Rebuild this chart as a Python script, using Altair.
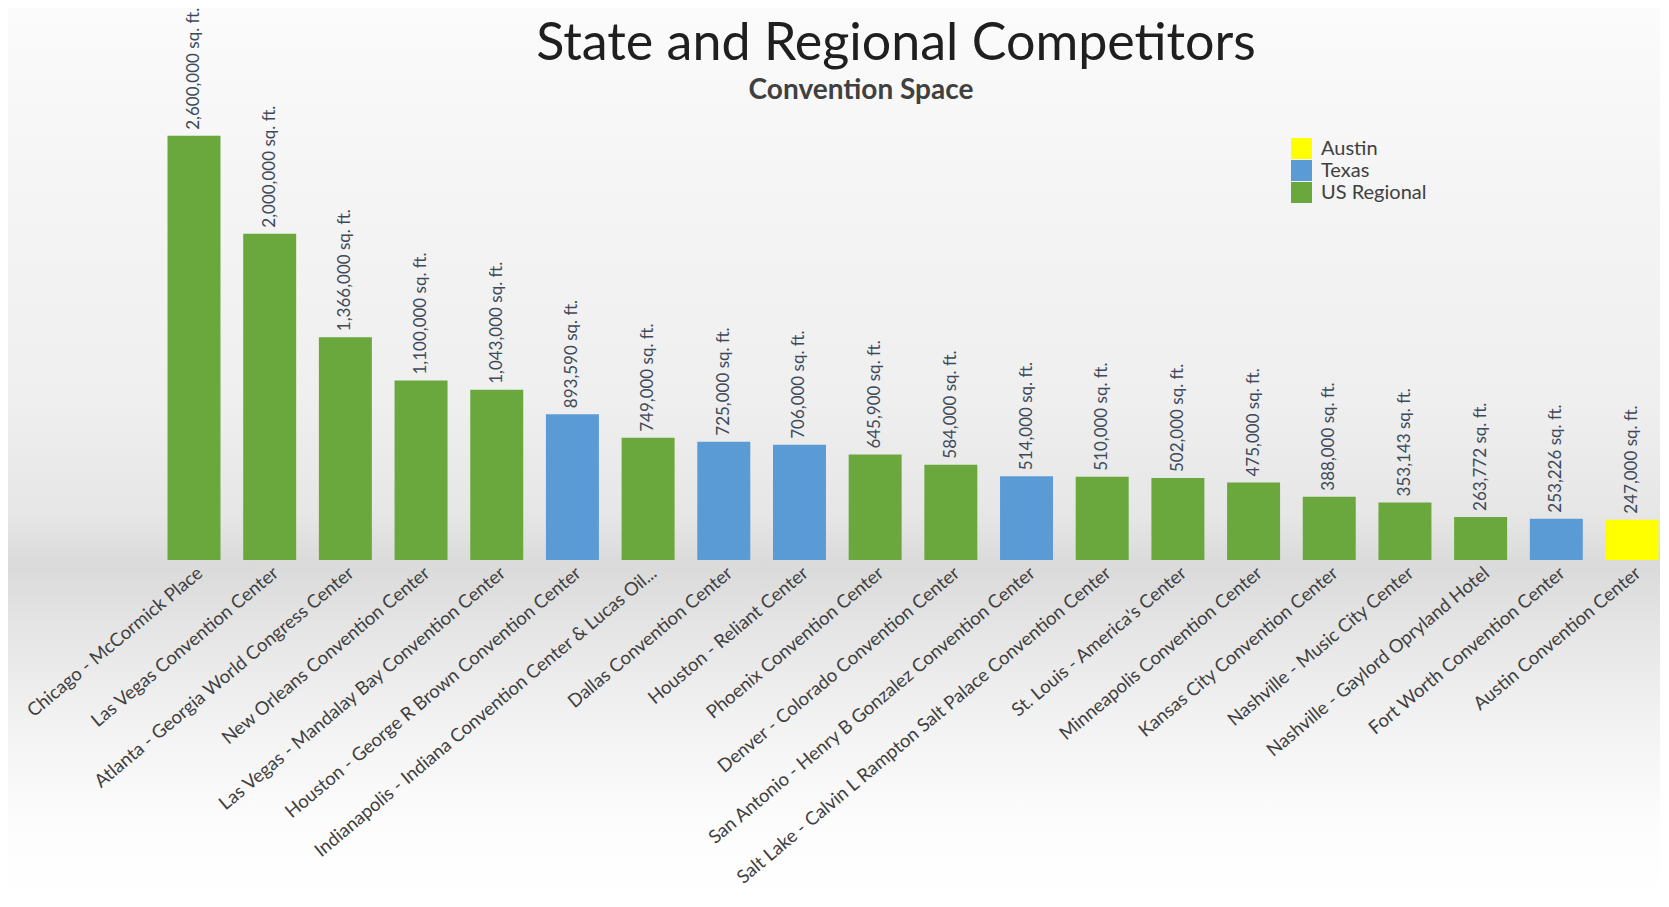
import altair as alt
import pandas as pd

# ---- data ----
venues = [
    "Chicago - McCormick Place",
    "Las Vegas Convention Center",
    "Atlanta - Georgia World Congress Center",
    "New Orleans Convention Center",
    "Las Vegas - Mandalay Bay Convention Center",
    "Houston - George R Brown Convention Center",
    "Indianapolis - Indiana Convention Center & Lucas Oil...",
    "Dallas Convention Center",
    "Houston - Reliant Center",
    "Phoenix Convention Center",
    "Denver - Colorado Convention Center",
    "San Antonio - Henry B Gonzalez Convention Center",
    "Salt Lake - Calvin L Rampton Salt Palace Convention Center",
    "St. Louis - America's Center",
    "Minneapolis Convention Center",
    "Kansas City Convention Center",
    "Nashville - Music City Center",
    "Nashville - Gaylord Opryland Hotel",
    "Fort Worth Convention Center",
    "Austin Convention Center",
]
sqft = [2600000, 2000000, 1366000, 1100000, 1043000, 893590, 749000, 725000,
        706000, 645900, 584000, 514000, 510000, 502000, 475000, 388000,
        353143, 263772, 253226, 247000]
groups = ["US Regional", "US Regional", "US Regional", "US Regional", "US Regional",
          "Texas", "US Regional", "Texas", "Texas", "US Regional", "US Regional",
          "Texas", "US Regional", "US Regional", "US Regional", "US Regional",
          "US Regional", "US Regional", "Texas", "Austin"]
group_order = ["Austin", "Texas", "US Regional"]
group_colors = ["#FFFF00", "#5B9BD5", "#6AA83E"]

title_text = "State and Regional Competitors"
subtitle_text = "Convention Space"

df = pd.DataFrame({"venue": venues, "sqft": sqft, "group": groups})
df["label"] = [f"{v:,} sq. ft." for v in sqft]

W, H = 1494, 465
PAD_L, PAD_T, PAD_B = 158, 87, 339

x_enc = alt.X(
    "venue:N", sort=venues,
    scale=alt.Scale(paddingInner=0.3, paddingOuter=0.02),
    axis=alt.Axis(title=None, labelAngle=-40, labelAlign="right", labelBaseline="middle",
                  labelFont="Lato", labelFontSize=18.5, labelColor="#404040",
                  labelPadding=10, labelOffset=6, ticks=False, domain=False, grid=False,
                  labelLimit=0, labelOverlap=False, zindex=2),
)
y_enc = alt.Y("sqft:Q", scale=alt.Scale(domain=[0, 2850000], nice=False), axis=None)

grad = alt.LinearGradient(
    gradient="linear", x1=0, y1=0, x2=0, y2=1,
    stops=[
        alt.GradientStop(offset=0.0, color="#FBFBFB"),
        alt.GradientStop(offset=0.22, color="#F4F4F4"),
        alt.GradientStop(offset=0.44, color="#EFEFEF"),
        alt.GradientStop(offset=0.57, color="#E6E6E6"),
        alt.GradientStop(offset=0.625, color="#DADADA"),
        alt.GradientStop(offset=0.69, color="#E4E4E4"),
        alt.GradientStop(offset=0.80, color="#F2F2F2"),
        alt.GradientStop(offset=0.91, color="#FCFCFC"),
        alt.GradientStop(offset=1.0, color="#FFFFFF"),
    ],
)

bg = alt.Chart(pd.DataFrame({"k": [0]})).mark_rect(color=grad).encode(
    x=alt.value(-PAD_L), x2=alt.value(W + 2),
    y=alt.value(-PAD_T), y2=alt.value(H + PAD_B),
)

bars = alt.Chart(df).mark_bar().encode(
    x=x_enc, y=y_enc,
    color=alt.Color(
        "group:N",
        scale=alt.Scale(domain=group_order, range=group_colors),
        legend=alt.Legend(title=None, orient="none", legendX=1125, legendY=43,
                          symbolType="square", symbolSize=441, symbolStrokeWidth=0,
                          labelFont="Lato", labelFontSize=20, labelColor="#404040",
                          labelOffset=9, rowPadding=1),
    ),
)

values = alt.Chart(df).mark_text(
    angle=270, align="left", baseline="middle", dx=6,
    font="Lato", fontSize=17, color="#3E4A5A",
).encode(x=x_enc, y=y_enc, text="label:N")

title = alt.Chart(pd.DataFrame({"t": [title_text]})).mark_text(
    align="center", baseline="alphabetic", font="Lato", fontSize=52,
    fontWeight="normal", color="#1F1F1F",
).encode(x=alt.value(730), y=alt.value(-35), text="t:N")

sub = alt.Chart(pd.DataFrame({"t": [subtitle_text]})).mark_text(
    align="center", baseline="alphabetic", font="Lato", fontSize=28,
    fontWeight="bold", color="#404040",
).encode(x=alt.value(695), y=alt.value(4), text="t:N")

chart = alt.layer(bg, bars, values, title, sub).properties(
    width=W, height=H,
    autosize=alt.AutoSizeParams(type="none"),
    padding={"left": PAD_L, "top": PAD_T, "right": 0, "bottom": PAD_B},
).configure_view(stroke=None, fill=None).configure(background="white")

chart.save("out.html", embed_options={"renderer": "svg", "actions": False})
